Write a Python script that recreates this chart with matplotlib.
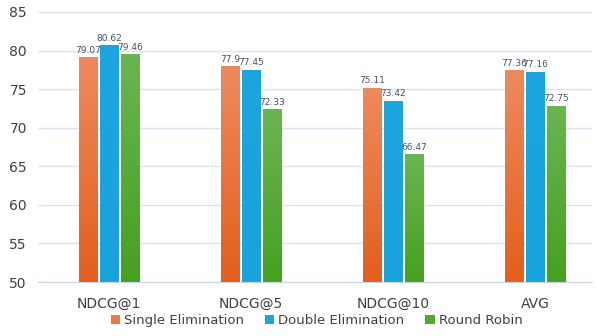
import numpy as np
from matplotlib import pyplot as plt
from matplotlib.colors import LinearSegmentedColormap
from matplotlib.patches import Patch

# dados do gráfico
categorias = ['NDCG@1', 'NDCG@5', 'NDCG@10', 'AVG']
single_elim = [79.07, 77.9, 75.11, 77.36]
double_elim = [80.62, 77.45, 73.42, 77.16]
round_robin = [79.46, 72.33, 66.47, 72.75]
series = ['Single Elimination', 'Double Elimination', 'Round Robin']

# cores (topo, base) do degradê de cada série
cores = [('#EE8A5E', '#E35F1C'), ('#1DA5DF', '#19A2DC'), ('#6AB553', '#46A01F')]
cores_legenda = ['#EC7A45', '#1BA4DE', '#52A830']

fig = plt.figure(figsize=(5.97, 3.36), dpi=100)
ax = fig.add_axes([38 / 597, 1 - 282 / 336, 554 / 597, 270 / 336])

base = 50
largura = 0.127
passo = 0.148
x = np.arange(len(categorias))
grad = np.linspace(0, 1, 256).reshape(-1, 1)

for i, valores in enumerate([single_elim, double_elim, round_robin]):
    cmap = LinearSegmentedColormap.from_list('g%d' % i, [cores[i][1], cores[i][0]])
    pos = x + (i - 1) * passo
    for xi, v in zip(pos, valores):
        ax.imshow(grad, extent=(xi - largura / 2, xi + largura / 2, base, v),
                  origin='lower', cmap=cmap, aspect='auto', zorder=2,
                  interpolation='bilinear')
        ax.text(xi, v + 0.4, f'{v:g}', ha='center', va='bottom',
                fontsize=6.5, color='#44546A', zorder=3)

ax.set_xlim(-0.5, -0.5 + 554 / 142)
ax.set_ylim(50, 85)
ax.set_yticks(range(50, 86, 5))
ax.tick_params(axis='y', length=0, labelsize=10, colors='#404040', pad=8)
ax.set_xticks(x)
ax.set_xticklabels(categorias)
ax.tick_params(axis='x', length=0, labelsize=10, colors='#404040', pad=11)
ax.grid(axis='y', color='#D9E4F2', linewidth=1, zorder=0)
for lado in ['top', 'right', 'left']:
    ax.spines[lado].set_visible(False)
ax.spines['bottom'].set_color('#C9D6E8')
ax.set_axisbelow(True)

handles = [Patch(facecolor=c, label=s) for c, s in zip(cores_legenda, series)]
fig.legend(handles=handles, loc='lower center', bbox_to_anchor=(0.53, -0.01),
           ncol=3, frameon=False, fontsize=9.5, handlelength=0.7, handleheight=0.7,
           handletextpad=0.3, columnspacing=1.6, labelcolor='#404040')

fig.savefig('out.png', dpi=100)
